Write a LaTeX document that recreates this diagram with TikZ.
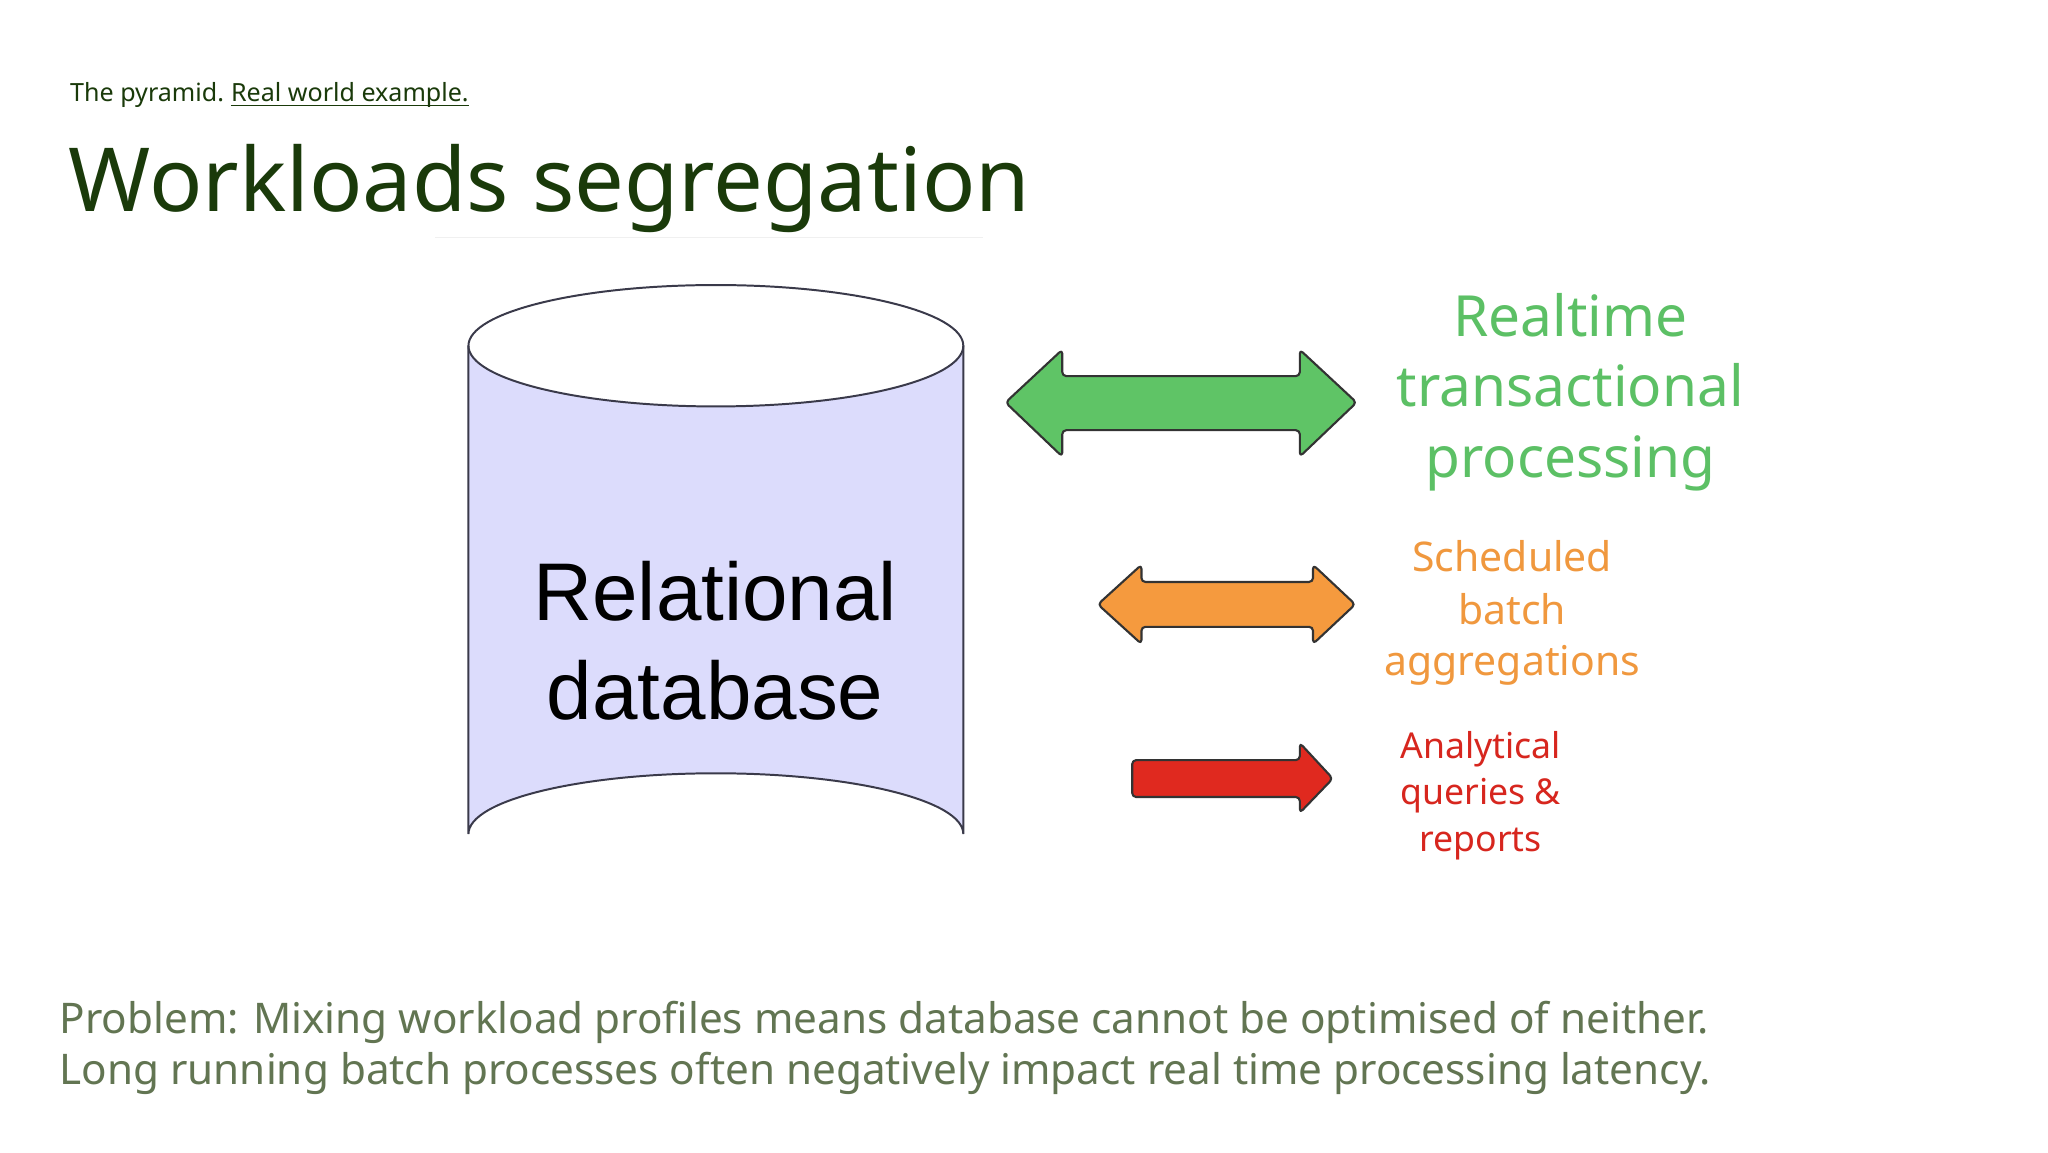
\documentclass[tikz,border=0pt]{standalone}
\usepackage{fontspec}
\setmainfont{Noto Sans}
\newfontfamily\arialf{Liberation Sans}
\definecolor{dkgreen}{HTML}{1A3A0A}
\definecolor{cylfill}{HTML}{DCDCFC}
\definecolor{cylline}{HTML}{3A3A4A}
\definecolor{gfill}{HTML}{5FC466}
\definecolor{ofill}{HTML}{F59A3E}
\definecolor{rfill}{HTML}{E0291F}
\definecolor{gtext}{HTML}{5CC065}
\definecolor{otext}{HTML}{F0983E}
\definecolor{rtext}{HTML}{D7261E}
\definecolor{ptext}{HTML}{627552}
\newcommand{\fs}[1]{\fontsize{#1pt}{#1pt}\selectfont}
\begin{document}
\begin{tikzpicture}[x=1pt,y=-1pt,
  arr/.style={draw=black!80,line width=1.6pt,rounded corners=3pt,line join=round},
  lbl/.style={anchor=base,align=center,inner sep=0}]
\useasboundingbox (0,0) rectangle (1552,873);
\fill[white] (0,0) rectangle (1552,873);
\node[anchor=base west,inner sep=0] (sub) at (53,77) {\fs{19}\color{dkgreen}The pyramid.};
\node[anchor=base west,inner sep=0] (link) at ([xshift=5pt]sub.base east) {\fs{19}\color{dkgreen}Real world example.};
\draw[dkgreen,line width=1.2pt] ([yshift=-3pt]link.base west) -- ([yshift=-3pt]link.base east);
\node[anchor=base west,inner sep=0] (title) at (52,160) {\fs{67}\bfseries\color{dkgreen}Workloads segregation};
\draw[black!6,line width=1pt] (330,180) -- (745,180);
% cylinder
\path[fill=cylfill] (355,262) -- (355,632) arc[start angle=180,end angle=360,x radius=187.5,y radius=46] -- (730,262) arc[start angle=0,end angle=180,x radius=187.5,y radius=46] -- cycle;
\draw[cylline,line width=1.5pt] (355,262) -- (355,632) arc[start angle=180,end angle=360,x radius=187.5,y radius=46] -- (730,262);
\draw[cylline,line width=1.5pt] (542.5,262) ellipse[x radius=187.5,y radius=46];
\node[lbl] (db1) at (542,470) {\arialf\fs{62}Relational};
\node[lbl] (db2) at (542,545) {\arialf\fs{62}database};
% arrows
\draw[arr,fill=gfill] (762,305) -- (805,265) -- (805,285) -- (985,285) -- (985,265) -- (1028,305) -- (985,346) -- (985,326) -- (805,326) -- (805,346) -- cycle;
\draw[arr,fill=ofill] (832,458) -- (865,428) -- (865,441) -- (995,441) -- (995,428) -- (1027,458) -- (995,488) -- (995,475) -- (865,475) -- (865,488) -- cycle;
\draw[arr,fill=rfill] (858,576) -- (985,576) -- (985,563) -- (1010,590) -- (985,616) -- (985,604) -- (858,604) -- cycle;
% labels
\node[lbl] (g1) at (1190,255) {\fs{43}\bfseries\color{gtext}Realtime};
\node[lbl] (g2) at (1190,308) {\fs{43}\bfseries\color{gtext}transactional};
\node[lbl] (g3) at (1190,362) {\fs{43}\bfseries\color{gtext}processing};
\node[lbl] (o1) at (1146,433) {\fs{31}\bfseries\color{otext}Scheduled};
\node[lbl] (o2) at (1146,473) {\fs{31}\bfseries\color{otext}batch};
\node[lbl] (o3) at (1146,512) {\fs{31}\bfseries\color{otext}aggregations};
\node[lbl] (r1) at (1122,575) {\fs{27}\bfseries\color{rtext}Analytical};
\node[lbl] (r2) at (1122,610) {\fs{27}\bfseries\color{rtext}queries \&};
\node[lbl] (r3) at (1122,645) {\fs{27}\bfseries\color{rtext}reports};
\node[anchor=base west,inner sep=0] (p1) at (45,783) {\fs{32}\color{ptext}\textbf{Problem:} Mixing workload profiles means database cannot be optimised of neither.};
\node[anchor=base west,inner sep=0] (p2) at (45,822) {\fs{32}\color{ptext}Long running \textbf{batch processes} often \textbf{negatively impact real time processing latency.}};
\end{tikzpicture}
\end{document}
